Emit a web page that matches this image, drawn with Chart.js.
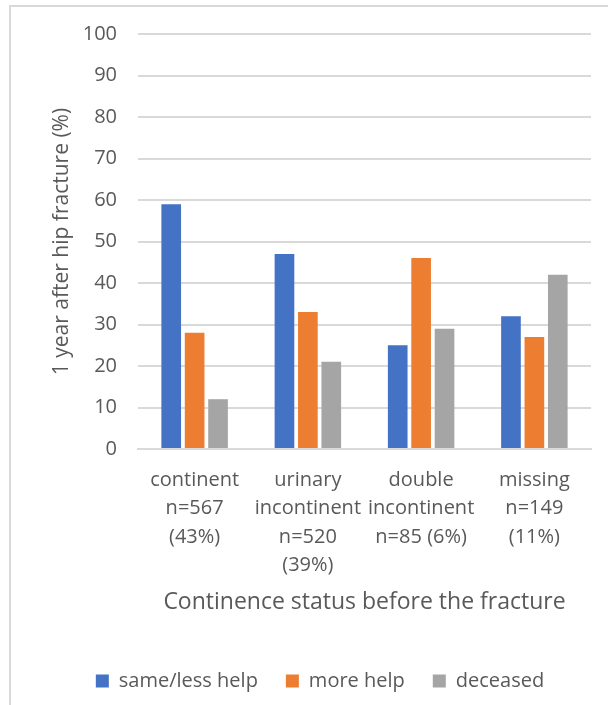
<!DOCTYPE html>
<html>
<head>
<meta charset="utf-8">
<script src="https://cdn.jsdelivr.net/npm/chart.js@4/dist/chart.umd.min.js"></script>
<style>
  html, body { margin: 0; padding: 0; background: #fff; }
  #wrap { position: relative; width: 608px; height: 705px; }
  #frame {
    position: absolute; left: 9px; top: 5px; right: 0; bottom: 0;
    border-top: 2px solid #d9d9d9; border-left: 2px solid #d9d9d9;
  }
  canvas { position: absolute; left: 0; top: 0; }
</style>
</head>
<body>
<div id="wrap">
  <div id="frame"></div>
  <canvas id="myChart" width="608" height="705"></canvas>
</div>
<script>
var categories = [
  ["continent", "n=567", "(43%)"],
  ["urinary", "incontinent", "n=520", "(39%)"],
  ["double", "incontinent", "n=85 (6%)"],
  ["missing", "n=149", "(11%)"]
];
var sameLessHelp = [59, 47, 25, 32];
var moreHelp = [28, 33, 46, 27];
var deceased = [12, 21, 29, 42];
var yTicks = [0, 10, 20, 30, 40, 50, 60, 70, 80, 90, 100];

var textColor = "#595959";
Chart.defaults.font.family = "'Open Sans', sans-serif";
Chart.defaults.color = textColor;

var ctx = document.getElementById("myChart").getContext("2d");

var chart = new Chart(ctx, {
  type: "bar",
  data: {
    labels: categories,
    datasets: [
      {
        label: "same/less help",
        backgroundColor: "#4472C4",
        data: sameLessHelp
      },
      {
        label: "more help",
        backgroundColor: "#ED7D31",
        data: moreHelp
      },
      {
        label: "deceased",
        backgroundColor: "#A5A5A5",
        data: deceased
      }
    ]
  },
  options: {
    responsive: false,
    animation: false,
    layout: { padding: { left: 49, right: 17, top: 34, bottom: 4 } },
    datasets: {
      bar: { categoryPercentage: 0.62, barPercentage: 0.84 }
    },
    plugins: {
      tooltip: { enabled: false },
      legend: {
        position: "bottom",
        labels: {
          boxWidth: 13,
          boxHeight: 13,
          padding: 28,
          color: textColor,
          font: { size: 20 }
        }
      }
    },
    scales: {
      x: {
        grid: { display: false, drawTicks: false },
        border: { color: "#d9d9d9", width: 2 },
        ticks: {
          padding: 17,
          maxRotation: 0,
          autoSkip: false,
          color: textColor,
          font: { size: 20, lineHeight: 1.42 }
        },
        title: {
          display: true,
          text: "Continence status before the fracture",
          color: textColor,
          font: { size: 23 },
          padding: { top: 0, bottom: 27 }
        },
        afterFit: function(scale) {
          scale.height = 194;
        }
      },
      y: {
        min: 0,
        max: 100,
        afterBuildTicks: function(scale) {
          scale.ticks = yTicks.map(function(v) { return { value: v }; });
        },
        grid: { color: "#d9d9d9", lineWidth: 2, drawTicks: false },
        border: { display: false },
        ticks: {
          padding: 21,
          color: textColor,
          font: { size: 20 }
        },
        title: {
          display: true,
          text: "1 year after hip fracture (%)",
          color: textColor,
          font: { size: 21 },
          padding: 0
        },
        afterFit: function(scale) {
          scale.width = 89;
        }
      }
    }
  }
});
</script>
</body>
</html>
